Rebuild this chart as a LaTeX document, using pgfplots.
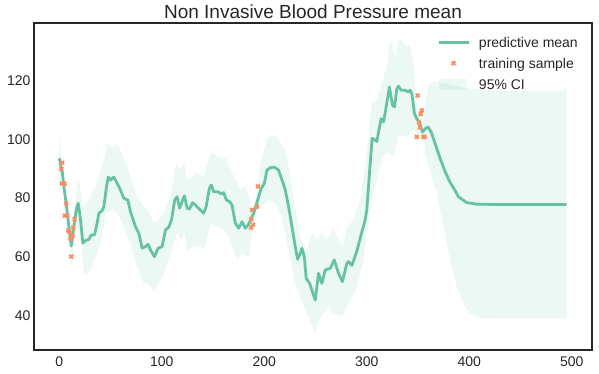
\documentclass[border=0pt]{standalone}
\usepackage{fontspec}
\setmainfont{Liberation Sans}
\usepackage{pgfplots}
\pgfplotsset{compat=1.18}
\usepgfplotslibrary{fillbetween}
\definecolor{meanc}{HTML}{66C2A5}
\definecolor{sampc}{HTML}{FC8D62}
\definecolor{txt}{HTML}{262626}
\pgfplotsset{
  lineleg/.style={legend image code/.code={\draw[##1] (0bp,0bp) -- (30bp,0bp);}},
  markleg/.style={legend image code/.code={\draw[##1] plot coordinates {(15bp,0bp)};}},
  arealeg/.style={legend image code/.code={\fill[##1] (0bp,-5.5bp) rectangle (28bp,5.5bp);}},
}
\begin{document}
\begin{tikzpicture}
\begin{axis}[
  at={(0,0)}, anchor=south west,
  scale only axis, width=558bp, height=327bp,
  xmin=-24.75, xmax=519.75, ymin=28.2, ymax=139.6,
  xtick={0,100,200,300,400,500}, ytick={40,60,80,100,120},
  major tick length=0pt,
  /pgf/number format/assume math mode=true,
  tick label style={font=\fontsize{14bp}{16bp}\selectfont, text=txt},
  xticklabel style={yshift=-3bp},
  axis line style={draw=txt, line width=1.25bp},
  legend style={at={(1,1)}, anchor=north east, xshift=-12bp, yshift=-12bp,
    draw=none, fill=none, inner sep=0pt, row sep=7bp, column sep=7bp,
    font=\fontsize{14bp}{16bp}\selectfont, text=txt,
    nodes={inner sep=2bp, text height=10bp, text depth=0bp}},
  legend cell align=left,
]
% 95% band
\addplot[name path=up, draw=none, forget plot] coordinates {
(0,102) (1.5,95) (2.5,92.5) (4.4,86.5) (7,79.5) (9.3,72.5) (11.6,67) (14.1,73)
(16,80) (18.4,87.3) (20.7,82.7) (22.3,77) (25.5,77.6) (33.6,82.7) (38.5,87.3)
(43.4,93) (47.3,98.6) (51.6,96.9) (55.8,98.4) (59.6,96.3) (66.2,90.7) (71.1,85)
(75.9,80.4) (82.4,77) (87.3,75.3) (92.1,71.4) (97,72.5) (101.9,74.8) (108.4,80.4)
(114.2,91.8) (118.1,89.5) (122,91.8) (124.7,86.1) (129.5,87.2) (134.4,88.4)
(140.8,87.3) (148.3,95.8) (153.9,94.1) (162,93.5) (166.9,90.1) (170.1,87.3)
(176.6,82.7) (181.5,83.9) (185.5,80) (187.5,75.5) (189.5,76.5) (192,79.5)
(194,86) (196,91) (202.6,100.3) (210.7,101.5) (218.8,97.5) (223.7,90.7)
(230.2,77) (234.9,66.8) (241.4,62.3) (246.3,68) (251.2,65.7) (256.2,68)
(261,65.7) (267.5,70.2) (272.4,65.7) (276.7,63.4) (280.6,70.2) (287,72.5)
(293.6,79.3) (300.1,95.2) (305,112.3) (309.8,113.4) (314.7,119.1) (319.6,124.7)
(322.8,133.8) (327.7,128.1) (331.9,134.4) (335.8,132.7) (342.3,131.6)
(345.5,125.9) (348.2,113) (350,110) (352,108.5) (354.3,106) (356,107.5)
(357.5,113) (360.3,118.5) (365.2,119.6) (374.8,119.1) (394.3,117.4)
(426.8,116.6) (495,116.6)};
\addplot[name path=lo, draw=none, forget plot] coordinates {
(0,86) (1.5,88) (2.5,87) (4.4,81.5) (7,74.5) (9.3,67.8) (11.6,57) (14.1,64)
(16.8,70) (18.4,69.5) (20.7,66.8) (22.3,61.2) (23.9,54.3) (27.2,54.3) (32.1,56.6)
(36.9,61.2) (41.8,66.8) (45,74.8) (49.9,75.9) (56.4,74.8) (62.9,70.2) (69.4,64.6)
(75.9,56.6) (82.4,50.9) (85.7,50.9) (92.1,48.7) (97,50.9) (101.9,54.3)
(108.4,61.2) (114.9,68) (118.8,65.7) (122,68) (124.7,62.3) (131.1,63.4)
(137.6,63.4) (140.8,62.3) (147.4,71.4) (153.9,70.2) (160.3,69.1) (165.2,66.8)
(173.4,58.9) (178.3,61.2) (184.7,60) (186.5,65) (188,68) (190,70) (192,74)
(194,76) (196.1,77) (204.2,79.3) (210.7,78.2) (217.3,73.6) (223.7,62.3)
(230.2,50.9) (234.9,46.4) (241.4,40.7) (249.5,33.9) (252.9,38.4) (257.8,40.7)
(262.7,43) (267.5,40.7) (275.7,39.6) (282.2,44.1) (290.4,49.8) (296.8,58.9)
(303.3,75.9) (308.2,83.9) (314.7,93) (319.6,95.8) (324.4,94.1) (326.1,94.1)
(331,101.5) (339.1,100.9) (345.5,103.2) (348.2,102.5) (350,101.5) (352,102)
(354.3,99.5) (356,99) (357,95.2) (361.8,89.5) (368.3,81.6) (374.8,70.2)
(381.3,58.9) (387.8,49.8) (394.3,44.1) (400.8,40.7) (410.6,39.2) (430,39)
(495,39)};
\addplot[fill=meanc, fill opacity=0.12, draw=none, forget plot] fill between[of=up and lo];
% predictive mean
\addplot[color=meanc, line width=2.8bp, line join=round, lineleg] coordinates {
(0,93.5) (2,90) (3,88.5) (4.4,84) (7,77) (9.3,70.2) (11.6,63.6) (14.1,70.2)
(16.8,76.5) (18.4,78.2) (20.7,72.5) (22.9,64.6) (25.5,65.5) (28.8,65.9)
(31.1,67.4) (34.3,67.4) (36.9,71.4) (38.5,74.8) (41.8,75.7) (43.4,77) (46,83.9)
(47.7,87.1) (49.9,86.1) (53.1,87.1) (56.4,85) (59.6,82.7) (62.9,79.9)
(66.8,79.3) (69.4,75.3) (74.3,70.2) (77.5,68) (80.8,62.9) (84,63.4) (86.6,64.2)
(88.9,62.3) (92.8,60) (96.4,62.9) (100.3,63.4) (103.5,69.1) (106.7,70)
(109.4,72.5) (112.6,79.3) (114.9,80.4) (117.4,76.5) (120.4,79.3) (122,80.7)
(124.7,76.5) (126.9,76.2) (130.1,78.4) (132.7,77.6) (135,76.8) (137.6,75.9)
(140.8,74.8) (143.2,77) (146.4,83.3) (148.3,84.4) (150.6,82.1) (154.9,82.1)
(158.1,81.4) (160.3,81.8) (163,79.3) (166.2,78.7) (168.5,77.5) (171.7,71.4)
(174.9,69.7) (178.3,71.9) (181.5,69.7) (184.7,71.1) (189.6,74.8) (193.5,79.3)
(196.8,83.1) (200,85) (202.6,89.5) (205.8,90.3) (209.7,90.5) (213.9,89.5)
(217.3,86.1) (220.5,82.7) (223.7,77) (227,70.2) (230.2,63.4) (232.5,59.1)
(235.1,61.2) (236.7,62.9) (239,60) (240.9,52.6) (244.2,50.9) (249.7,45.2)
(252.9,54.3) (256.2,50.9) (259.4,55.5) (264.3,56) (268.2,58.9) (272.4,54.3)
(276.2,51.5) (280.6,57.8) (282.2,58.3) (285.5,57) (290.4,62) (295.2,68.5)
(298.4,72.5) (300,76) (302.5,88) (305.2,100.3) (308.2,99.7) (309.8,99.2)
(311.5,102.5) (314,107) (316.3,105.9) (318.6,110.4) (322.1,117.8) (325,111.6)
(327,111) (329.3,117.2) (330.9,118.1) (333.5,116.7) (337.4,116.7) (340.6,116.1)
(342.3,116.7) (344,115.5) (346.5,108.7) (348.8,107) (351.1,105.9) (354.3,102.5)
(357,103.6) (359.6,104.2) (362.8,102.5) (366.7,98.5) (371.6,93.4) (376.5,88.9)
(381.3,85.3) (386.2,82.5) (389.4,80.4) (397.6,78.4) (407.3,77.9) (420,77.8)
(495,77.8)};
\addlegendentry{predictive mean}
% training samples
\addplot[only marks, mark=x, mark size=2.6bp, color=sampc, line width=1.9bp, markleg] coordinates {
(1.9,89.9) (2.8,92) (2.4,84.9) (5.1,84.9) (6.7,78.1) (5.4,74) (7.7,74)
(8.7,68.9) (9.9,68.3) (10.9,66.1) (12.9,67.2) (13.5,70) (14.8,72.8) (11.6,60)
(193.8,83.9) (188,75.9) (192.9,77) (187.3,72.8) (189,70.9) (187,69.9)
(349.6,114.9) (353.7,109.8) (352.7,108.6) (351,105.7) (351.8,104) (348.8,100.8)
(355.3,100.8) (356.5,100.8)};
\addlegendentry{training sample}
\addlegendimage{fill=meanc, fill opacity=0.12, draw=none, arealeg}
\addlegendentry{95\% CI}
\end{axis}
\node[anchor=base, font=\fontsize{19bp}{22bp}\selectfont, text=txt] at (279bp,331bp) {Non Invasive Blood Pressure mean};
\pgfresetboundingbox
\path[use as bounding box] (-34bp,-24bp) rectangle (565bp,350bp);
\end{tikzpicture}
\end{document}
